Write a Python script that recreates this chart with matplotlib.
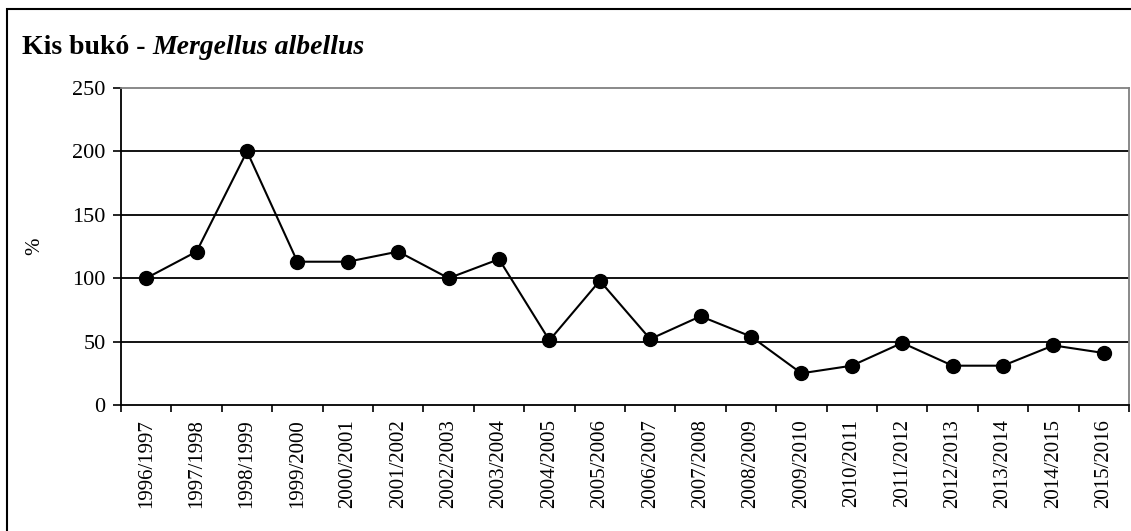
import matplotlib.pyplot as plt
from matplotlib.patches import Rectangle

# Adatok
evek = ["1996/1997", "1997/1998", "1998/1999", "1999/2000", "2000/2001",
        "2001/2002", "2002/2003", "2003/2004", "2004/2005", "2005/2006",
        "2006/2007", "2007/2008", "2008/2009", "2009/2010", "2010/2011",
        "2011/2012", "2012/2013", "2013/2014", "2014/2015", "2015/2016"]
szazalek = [100, 121, 200, 113, 113, 121, 100, 115, 51, 98,
            52, 70, 54, 25, 31, 49, 31, 31, 47, 41]
y_ticks = [0, 50, 100, 150, 200, 250]

plt.rcParams['font.family'] = ['Liberation Serif', 'DejaVu Serif']

fig = plt.figure(figsize=(11.31, 5.31), dpi=100)
ax = fig.add_axes([121 / 1131, 1 - 405 / 531, (1129 - 121) / 1131, (405 - 88) / 531])

# Külső keret
fig.patches.append(Rectangle((7 / 1131, -0.1), 1.2, 1 - 9 / 531 + 0.1,
                             transform=fig.transFigure, fill=False,
                             edgecolor='black', linewidth=1.5))

x = range(len(evek))
ax.plot(x, szazalek, color='black', linewidth=1.5, marker='o', markersize=10, zorder=3)

ax.set_xlim(-0.5, len(evek) - 0.5)
ax.set_ylim(0, 250)
ax.set_yticks(y_ticks)
ax.set_xticks(list(x))
ax.set_xticklabels(evek, rotation=90, fontsize=15)
ax.set_xticks([i - 0.5 for i in range(len(evek) + 1)], minor=True)
ax.tick_params(axis='x', which='major', length=0, pad=10)
ax.tick_params(axis='x', which='minor', length=5, width=1.2, direction='out')
ax.tick_params(axis='y', labelsize=16, length=6, width=1.2, pad=5)

for v in y_ticks[1:-1]:
    ax.axhline(v, color='black', linewidth=1.3, zorder=1)

ax.spines['left'].set_linewidth(1.3)
ax.spines['bottom'].set_linewidth(1.3)
for s in ['top', 'right']:
    ax.spines[s].set_color('#808080')
    ax.spines[s].set_linewidth(1.3)

ax.set_ylabel('%', fontsize=15, labelpad=20)

# Cím: félkövér + dőlt rész egymás után
t1 = fig.text(22 / 1131, 1 - 54 / 531, 'Kis bukó - ', fontsize=20, fontweight='bold',
              va='baseline')
ax.annotate('Mergellus albellus', xy=(1, 0), xycoords=t1, fontsize=20, fontweight='bold',
            fontstyle='italic', va='bottom', ha='left', annotation_clip=False)

plt.savefig('out.png', dpi=100)
